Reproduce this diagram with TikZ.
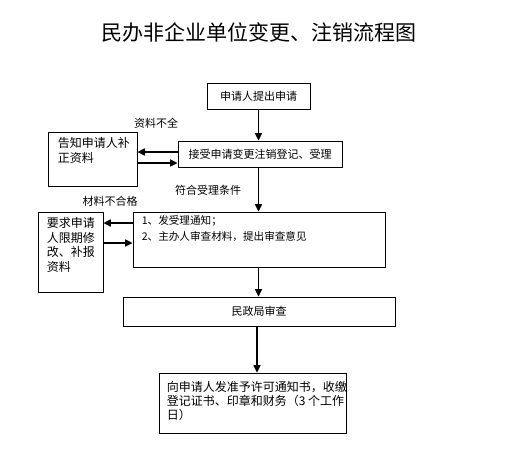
\documentclass[tikz,border=0pt]{standalone}
\usepackage{fontspec}
\setmainfont{Noto Sans CJK SC}
\usetikzlibrary{arrows.meta}
\begin{document}
\begin{tikzpicture}[x=1pt,y=-1pt,
  box/.style={draw=black,line width=0.8pt,inner sep=0pt},
  arr/.style={line width=1.5pt,-{Triangle[length=7.5pt,width=7pt]}},
  txt/.style={inner sep=0pt,align=left,font=\fontsize{12}{14.5}\selectfont},
  lbl/.style={inner sep=0pt,font=\fontsize{11}{12}\selectfont}]
\useasboundingbox[fill=white] (0,0) rectangle (514,453);
\node[inner sep=0pt,font=\fontsize{21}{24}\selectfont] (title) at (259,32) {民办非企业单位变更、注销流程图};
% boxes
\node[box,minimum width=103pt,minimum height=26pt,font=\fontsize{11}{13}\selectfont] (b1) at (258.5,96) {申请人提出申请};
\node[box,minimum width=164pt,minimum height=26pt,font=\fontsize{11}{13}\selectfont] (b2) at (260,154) {接受申请变更注销登记、受理};
\node[box,minimum width=89pt,minimum height=54pt] (l1) at (92.5,159) {};
\node[txt,anchor=north west] (l1t) at ([xshift=10pt,yshift=-6pt]l1.north west) {告知申请人补\\正资料};
\node[box,minimum width=252pt,minimum height=55pt] (b3) at (259,239.5) {};
\node[txt,anchor=north west,font=\fontsize{10.6}{16}\selectfont] (b3t) at ([xshift=9pt,yshift=-4pt]b3.north west) {1、发受理通知；\\2、主办人审查材料，提出审查意见};
\node[box,minimum width=65pt,minimum height=80pt] (l2) at (70.5,252) {};
\node[txt,anchor=north west] (l2t) at ([xshift=9pt,yshift=-6pt]l2.north west) {要求申请\\人限期修\\改、补报\\资料};
\node[box,minimum width=272pt,minimum height=29pt,font=\fontsize{11}{13}\selectfont] (b4) at (259,311.5) {民政局审查};
\node[box,minimum width=187pt,minimum height=60pt] (b5) at (252.5,403) {};
\node[txt,anchor=north west,font=\fontsize{12}{14}\selectfont] (b5t) at ([xshift=8pt,yshift=-9pt]b5.north west) {向申请人发准予许可通知书，收缴\\登记证书、印章和财务（3 个工作\\日）};
% labels
\node[lbl] (n1) at (156,123) {资料不全};
\node[lbl] (n2) at (208,190) {符合受理条件};
\node[lbl] (n3) at (110,201) {材料不合格};
% arrows
\draw[arr] (b1.south) -- (b1.south |- b2.north);
\draw[arr] ([xshift=-1.5pt]b2.south) -- ([xshift=-1.5pt]b2.south |- b3.north);
\draw[arr] ([xshift=-0.5pt]b3.south) -- ([xshift=-0.5pt]b3.south |- b4.north);
\draw[arr] ([xshift=-2pt]b4.south) -- ([xshift=-2pt]b4.south |- b5.north);
\draw[arr] ([yshift=2pt]b2.west) -- ([yshift=2pt]b2.west -| l1.east);
\draw[arr] ([yshift=-9pt]b2.west -| l1.east) -- ([yshift=-9pt]b2.west);
\draw[arr] ([yshift=16.5pt]b3.west) -- ([yshift=16.5pt]b3.west -| l2.east);
\draw[arr] ([yshift=-3.5pt]b3.west -| l2.east) -- ([yshift=-3.5pt]b3.west);
\end{tikzpicture}
\end{document}
